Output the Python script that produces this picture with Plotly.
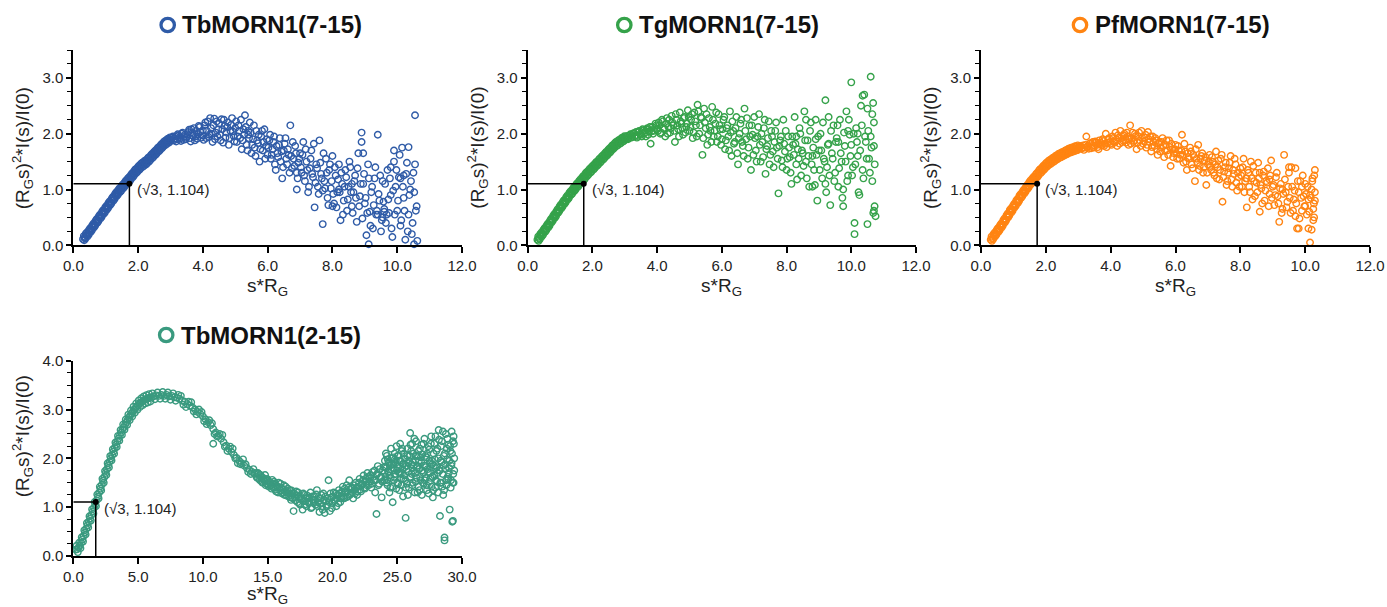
import plotly.graph_objects as go

W, H = 1387, 607

# ---------------- data ----------------
guide_x = 1.732
guide_y = 1.104
guide_label = "(\u221a3, 1.104)"

titles = ["TbMORN1(7-15)", "TgMORN1(7-15)", "PfMORN1(7-15)", "TbMORN1(2-15)"]
colors = ["#2F5BA7", "#35A24A", "#FF8412", "#3A9A7F"]

# shared x grids of the low-angle band of the three (7-15) constructs
band_x = [0.30,0.35,0.40,0.45,0.50,0.55,0.60,0.65,0.70,0.75,0.80,0.85,0.90,0.95,1.00,1.05,1.10,1.15,1.20,1.25,
          1.30,1.35,1.40,1.45,1.50,1.55,1.60,1.65,1.70,1.75,1.80,1.85,1.90,1.95,2.00,2.05,2.10,2.15,2.20,2.25,
          2.30,2.35,2.40,2.45,2.50,2.55,2.60,2.65,2.70,2.75,2.80,2.85,2.90,2.95,3.00]
band_x2 = [0.325,0.375,0.425,0.475,0.525,0.575,0.625,0.675,0.725,0.775,0.825,0.875,0.925,0.975,1.025,1.075,1.125,1.175,
           1.225,1.275,1.325,1.375,1.425,1.475,1.525,1.575,1.625,1.675,1.725,1.775,1.825,1.875,1.925,1.975,2.025,2.075,
           2.125,2.175,2.225,2.275,2.325,2.375,2.425,2.475,2.525,2.575,2.625,2.675,2.725,2.775,2.825,2.875,2.925,2.975]
band_x3 = [0.3375,0.3875,0.4375,0.4875,0.5375,0.5875,0.6375,0.6875,0.7375,0.7875,0.8375,0.8875,0.9375,0.9875,1.0375,1.0875,1.1375,1.1875,
           1.2375,1.2875,1.3375,1.3875,1.4375,1.4875,1.5375,1.5875,1.6375,1.6875,1.7375,1.7875,1.8375,1.8875,1.9375,1.9875,2.0375,2.0875,
           2.1375,2.1875,2.2375,2.2875,2.3375,2.3875,2.4375,2.4875,2.5375,2.5875,2.6375,2.6875,2.7375,2.7875,2.8375,2.8875,2.9375,2.9875]
mid_x = [3.05,3.10,3.15,3.20,3.25,3.30,3.35,3.40,3.45,3.50,3.55,3.60,3.65,3.70,3.75,3.80,3.85,3.90,3.95,4.00,
         4.05,4.10,4.15,4.20,4.25,4.30,4.35,4.40,4.45,4.50,4.55,4.60,4.65,4.70,4.75,4.80,4.85,4.90,4.95,5.00,
         5.05,5.10,5.15,5.20,5.25,5.30,5.35,5.40,5.45,5.50,5.55,5.60,5.65,5.70,5.75,5.80,5.85,5.90,5.95,6.00,
         6.05,6.10,6.15,6.20,6.25,6.30,6.35,6.40,6.45,6.50,6.55,6.60,6.65,6.70,6.75,6.80,6.85,6.90,6.95,7.00,
         7.05,7.10,7.15,7.20,7.25,7.30,7.35,7.40,7.45,7.50,7.55,7.60,7.65,7.70,7.75,7.80,7.85,7.90,7.95,8.00,
         8.05,8.10,8.15,8.20,8.25,8.30,8.35,8.40,8.45,8.50,8.55,8.60,8.65,8.70,8.75,8.80,8.85,8.90,8.95,9.00,
         9.05,9.10,9.15,9.20,9.25,9.30,9.35,9.40,9.45,9.50,9.55,9.60,9.65,9.70,9.75,9.80,9.85,9.90,9.95,10.00]
mid_x2 = [3.025,3.075,3.125,3.175,3.225,3.275,3.325,3.375,3.425,3.475,3.525,3.575,3.625,3.675,3.725,3.775,3.825,3.875,3.925,3.975,
          4.025,4.075,4.125,4.175,4.225,4.275,4.325,4.375,4.425,4.475,4.525,4.575,4.625,4.675,4.725,4.775,4.825,4.875,4.925,4.975,
          5.025,5.075,5.125,5.175,5.225,5.275,5.325,5.375,5.425,5.475,5.525,5.575,5.625,5.675,5.725,5.775,5.825,5.875,5.925,5.975,
          6.025,6.075,6.125,6.175,6.225,6.275,6.325,6.375,6.425,6.475,6.525,6.575,6.625,6.675,6.725,6.775,6.825,6.875,6.925,6.975,
          7.025,7.075,7.125,7.175,7.225,7.275,7.325,7.375,7.425,7.475,7.525,7.575,7.625,7.675,7.725,7.775,7.825,7.875,7.925,7.975,
          8.025,8.075,8.125,8.175,8.225,8.275,8.325,8.375,8.425,8.475,8.525,8.575,8.625,8.675,8.725,8.775,8.825,8.875,8.925,8.975,
          9.025,9.075,9.125,9.175,9.225,9.275,9.325,9.375,9.425,9.475,9.525,9.575,9.625,9.675,9.725,9.775,9.825,9.875,9.925,9.975]

# TbMORN1(7-15)
tb7_band_y = [0.11,0.14,0.18,0.21,0.25,0.29,0.33,0.37,0.41,0.45,0.49,0.53,0.57,0.61,0.65,0.69,0.73,0.77,0.81,0.85,
              0.89,0.93,0.96,1.00,1.03,1.07,1.10,1.14,1.17,1.20,1.24,1.27,1.31,1.34,1.37,1.40,1.43,1.45,1.47,1.49,
              1.52,1.55,1.58,1.61,1.64,1.67,1.70,1.73,1.76,1.79,1.82,1.84,1.86,1.88,1.90]
tb7_band_y2 = [0.165,0.12,0.235,0.19,0.31,0.27,0.39,0.35,0.47,0.43,0.55,0.51,0.63,0.59,0.71,0.67,0.79,0.75,
               0.87,0.83,0.95,0.905,1.02,0.975,1.09,1.045,1.16,1.115,1.225,1.18,1.295,1.25,1.365,1.315,1.425,1.375,
               1.48,1.42,1.52,1.465,1.575,1.525,1.635,1.585,1.695,1.645,1.755,1.705,1.815,1.765,1.87,1.81,1.91,1.85]
tb7_band_y3 = [0.09,0.21,0.16,0.28,0.24,0.36,0.32,0.44,0.40,0.52,0.48,0.60,0.56,0.68,0.64,0.76,0.72,0.84,
               0.80,0.92,0.88,0.99,0.95,1.06,1.02,1.13,1.09,1.20,1.15,1.27,1.22,1.34,1.29,1.40,1.35,1.46,
               1.405,1.505,1.445,1.55,1.50,1.61,1.56,1.67,1.62,1.73,1.68,1.79,1.74,1.85,1.795,1.895,1.835,1.935]
tb7_mid_y = [1.93,1.88,1.95,1.90,1.97,1.91,2.00,1.89,1.98,1.94,2.03,1.92,2.08,1.96,1.88,2.05,1.99,2.12,1.93,2.06,
             2.15,1.92,2.22,1.98,2.10,1.85,2.27,2.02,1.95,2.18,1.88,2.08,2.25,1.93,2.12,1.80,2.05,2.28,1.96,2.10,
             1.85,2.15,1.92,1.72,2.08,2.33,1.80,1.98,2.20,1.65,1.90,1.75,2.05,1.83,1.50,1.95,1.70,2.08,1.78,1.62,
             1.88,1.55,1.72,1.95,1.35,1.65,1.80,1.50,1.20,1.70,1.92,1.45,1.62,2.15,1.38,1.55,1.78,1.00,1.48,1.65,
             1.30,1.85,1.15,1.50,0.95,1.38,1.70,1.22,0.68,1.45,1.05,1.88,1.28,0.38,1.15,1.55,0.85,1.35,1.02,1.60,
             0.75,1.25,0.95,1.45,0.45,1.10,0.80,1.35,0.62,1.05,1.40,0.70,0.95,1.25,0.42,1.65,0.88,2.02,1.10,0.75,
             0.18,1.45,0.60,0.95,0.30,1.20,0.55,1.98,0.80,0.25,1.15,0.65,0.40,1.35,0.58,0.90,0.15,1.70,1.05,0.62]
tb7_mid_y2 = [1.88,1.95,1.91,1.86,1.99,1.93,1.87,2.02,1.94,1.90,1.99,2.07,1.86,2.01,2.10,1.95,1.91,2.14,2.03,1.97,
              1.89,2.20,2.05,1.94,2.28,2.00,2.15,1.90,2.22,2.08,1.98,2.26,1.84,2.14,2.02,2.20,1.92,2.16,2.04,1.86,
              2.22,1.95,2.05,2.25,1.88,1.98,2.12,1.70,1.92,2.02,1.80,2.15,1.60,1.88,1.98,1.72,2.05,1.85,1.55,1.90,
              1.75,1.98,1.62,1.85,1.45,1.78,1.58,1.92,1.68,1.40,1.82,1.55,1.72,1.30,1.60,1.85,1.42,1.65,1.20,1.55,
              1.40,1.62,1.25,1.72,1.35,1.05,1.55,1.28,1.82,1.12,1.38,0.92,1.48,1.20,1.65,1.02,1.30,0.72,1.45,1.15,
              0.92,1.40,0.68,1.18,0.95,1.30,0.55,1.05,1.22,0.82,1.50,0.95,0.58,1.15,0.85,1.38,0.70,1.10,0.48,1.28,
              0.85,0.58,1.20,0.35,1.05,0.72,1.40,0.62,0.92,1.25,0.45,0.78,1.10,0.55,0.82,1.20,0.30,0.98,0.55,1.35]
tb7_end_x = [10.05,10.10,10.15,10.20,10.25,10.30,10.35,10.40,10.45,10.50,10.55,10.60,
             10.025,10.075,10.125,10.175,10.225,10.275,10.325,10.375,10.425,10.475,10.525,10.575,
             9.12,10.52,10.62,9.40,9.60,9.55,10.10,10.20,9.90,9.80,8.90,8.95,10.35,10.55,8.60,8.20,7.70,8.00,6.90,5.40]
tb7_end_y = [1.22,0.35,1.75,0.85,0.10,1.48,0.55,1.00,0.20,1.30,2.33,0.70,
             0.80,1.62,0.45,1.05,0.62,1.28,0.25,0.90,1.15,0.40,0.95,0.62,
             0.02,0.02,0.08,0.55,0.60,0.50,1.20,1.25,1.50,1.40,1.85,1.65,1.76,1.45,1.10,1.00,0.98,0.70,1.30,2.05]

# TgMORN1(7-15)
tg7_band_y = [0.10,0.13,0.17,0.21,0.25,0.29,0.33,0.37,0.41,0.46,0.50,0.54,0.58,0.63,0.67,0.71,0.75,0.79,0.83,0.87,
              0.91,0.95,0.98,1.02,1.05,1.09,1.12,1.16,1.19,1.22,1.26,1.29,1.32,1.35,1.38,1.41,1.44,1.47,1.50,1.53,
              1.56,1.59,1.62,1.65,1.68,1.71,1.74,1.77,1.80,1.82,1.84,1.86,1.88,1.90,1.92]
tg7_band_y2 = [0.155,0.11,0.23,0.19,0.31,0.27,0.39,0.35,0.475,0.44,0.56,0.52,0.645,0.61,0.73,0.69,0.81,0.77,
               0.89,0.85,0.97,0.925,1.04,0.995,1.11,1.065,1.18,1.135,1.245,1.20,1.315,1.265,1.375,1.325,1.435,1.385,
               1.495,1.445,1.555,1.505,1.615,1.565,1.675,1.625,1.735,1.685,1.795,1.745,1.85,1.79,1.89,1.83,1.93,1.87]
tg7_band_y3 = [0.08,0.20,0.16,0.28,0.24,0.36,0.32,0.44,0.41,0.53,0.49,0.61,0.58,0.70,0.66,0.78,0.74,0.86,
               0.82,0.94,0.90,1.01,0.97,1.08,1.04,1.15,1.11,1.22,1.17,1.29,1.24,1.35,1.30,1.41,1.36,1.47,
               1.42,1.53,1.48,1.59,1.54,1.65,1.60,1.71,1.66,1.77,1.72,1.83,1.775,1.875,1.815,1.915,1.855,1.955]
tg7_mid_y = [1.94,1.90,1.97,1.93,2.00,1.95,2.03,1.96,2.05,1.98,2.08,2.00,1.95,2.10,2.04,1.82,2.12,2.05,2.18,2.08,
             2.20,2.00,2.25,2.10,1.95,2.28,2.12,2.02,2.32,2.15,1.85,2.25,2.08,2.38,2.18,1.98,2.30,2.12,2.42,2.05,
             2.25,1.92,2.38,2.15,2.52,2.00,2.30,1.62,2.45,2.10,1.80,2.28,2.05,2.48,1.95,2.18,1.85,2.35,2.08,1.90,
             2.25,1.72,2.10,1.95,2.40,1.60,2.05,1.85,2.30,1.45,2.00,2.25,1.78,2.45,1.90,1.55,2.15,1.35,1.98,2.30,
             1.70,1.95,2.35,1.50,1.85,2.10,1.28,1.78,2.22,1.62,1.95,1.40,2.05,1.75,0.93,1.88,1.52,2.25,1.68,1.35,
             1.95,1.58,1.10,1.80,2.30,1.45,1.72,2.10,1.25,1.65,2.40,1.50,1.88,1.05,2.20,1.60,1.35,1.90,0.80,1.70,
             2.00,1.20,1.55,2.60,1.40,1.82,0.72,1.65,2.15,1.30,1.92,1.05,2.25,1.50,0.70,1.78,2.40,1.25,1.98,2.92]
tg7_mid_y2 = [1.90,1.96,1.92,1.99,1.94,2.01,1.97,1.93,2.04,2.00,1.95,2.06,2.02,2.08,1.98,2.12,2.04,2.00,2.10,2.15,
              2.05,2.15,2.02,2.22,2.08,2.18,2.00,2.25,2.10,2.20,2.05,2.35,2.15,1.95,2.22,2.10,2.28,2.02,2.18,2.30,
              2.12,2.35,2.02,2.22,1.95,2.40,2.15,2.28,1.92,2.20,2.35,1.98,2.12,1.85,2.25,2.05,2.38,1.95,2.15,1.80,
              2.08,2.30,1.88,2.15,1.70,2.02,2.22,1.82,2.10,1.65,1.92,2.18,1.85,1.60,2.05,2.28,1.75,1.95,2.15,1.62,
              1.92,1.50,2.12,1.80,2.00,1.58,2.25,1.72,1.92,1.45,2.05,1.68,1.85,2.20,1.55,1.78,1.95,1.40,1.82,2.05,
              1.55,1.75,1.30,1.95,1.62,1.82,1.18,1.55,2.00,1.70,1.42,1.88,1.20,1.60,2.05,1.45,1.75,1.08,1.62,1.95,
              1.35,1.70,2.20,1.50,0.95,1.80,1.25,2.05,1.55,1.15,1.85,2.15,1.38,1.65,0.85,2.02,1.50,1.15,2.25,1.60]
tg7_end_x = [10.05,10.10,10.15,10.20,10.25,10.30,10.35,10.40,10.45,10.50,10.55,10.60,10.65,10.70,10.75,
             10.025,10.075,10.125,10.175,10.225,10.275,10.325,10.375,10.425,10.475,10.525,10.575,10.625,10.675,10.725,
             10.10,10.70,10.72,10.68,10.65,10.70,10.20,9.90,9.60,9.30,8.90,8.60,8.30,10.35,10.60,10.50,9.75,9.20,8.80,10.00]
tg7_end_y = [1.40,0.20,2.10,1.60,0.90,2.50,1.35,2.70,1.85,0.38,1.55,3.02,1.15,2.20,0.52,
             1.25,2.00,1.45,1.85,0.95,1.70,2.15,1.20,1.95,1.55,2.05,1.30,1.75,2.55,1.45,
             0.40,0.62,0.70,0.58,2.35,1.78,2.00,2.05,1.85,2.30,2.25,2.25,1.95,2.68,1.95,2.45,1.00,1.10,1.05,1.80]

# PfMORN1(7-15)
pf7_band_y = [0.10,0.13,0.17,0.21,0.25,0.29,0.33,0.37,0.42,0.46,0.51,0.55,0.60,0.64,0.68,0.73,0.77,0.81,0.86,0.90,
              0.94,0.98,1.02,1.06,1.10,1.14,1.17,1.21,1.24,1.27,1.31,1.34,1.37,1.40,1.43,1.46,1.48,1.50,1.52,1.54,
              1.56,1.58,1.60,1.61,1.63,1.64,1.66,1.67,1.69,1.70,1.71,1.72,1.73,1.74,1.75]
pf7_band_y2 = [0.155,0.11,0.23,0.19,0.31,0.27,0.39,0.355,0.48,0.445,0.57,0.535,0.66,0.62,0.745,0.71,0.83,0.795,
               0.92,0.88,1.00,0.96,1.08,1.04,1.16,1.115,1.23,1.185,1.295,1.25,1.365,1.315,1.425,1.375,1.485,1.43,
               1.53,1.47,1.57,1.51,1.61,1.55,1.645,1.58,1.675,1.61,1.705,1.64,1.735,1.665,1.755,1.685,1.775,1.705]
pf7_band_y3 = [0.08,0.20,0.16,0.28,0.24,0.36,0.32,0.45,0.41,0.54,0.50,0.63,0.59,0.71,0.68,0.80,0.76,0.89,
               0.85,0.97,0.93,1.05,1.01,1.13,1.09,1.20,1.16,1.27,1.22,1.34,1.29,1.40,1.35,1.46,1.41,1.515,
               1.455,1.555,1.495,1.595,1.535,1.635,1.57,1.665,1.60,1.695,1.63,1.725,1.66,1.75,1.68,1.77,1.70,1.79]
pf7_mid_y = [1.77,1.73,1.79,1.75,1.95,1.78,1.82,1.74,1.85,1.79,1.84,1.76,1.88,1.81,1.90,1.78,2.00,1.84,1.92,1.82,
             1.95,1.86,2.02,1.78,1.93,2.05,1.85,1.97,1.88,2.02,1.80,2.15,1.92,1.85,2.00,1.72,1.95,1.88,2.05,1.82,
             1.93,1.75,2.03,1.85,1.68,1.95,1.78,1.88,1.62,1.85,1.75,1.92,1.58,1.80,1.70,1.88,1.42,1.72,1.65,1.80,
             1.55,1.70,1.62,1.98,1.48,1.68,1.35,1.58,1.75,1.45,1.62,1.15,1.55,1.80,1.42,1.60,1.30,1.52,1.08,1.45,
             1.62,1.35,1.50,1.25,1.68,1.40,1.18,1.55,0.78,1.32,1.48,1.15,1.38,1.60,1.05,1.28,1.45,0.98,1.22,1.38,
             1.05,1.55,1.15,0.68,1.30,0.95,1.20,1.42,0.88,1.12,1.48,0.60,1.02,1.25,0.80,1.15,1.38,0.92,1.52,1.05,
             0.72,1.22,0.88,0.42,1.10,0.65,1.62,0.95,0.78,1.30,0.58,1.05,0.82,1.38,0.30,0.95,1.15,0.62,0.88,1.10]
pf7_mid_y2 = [1.73,1.78,1.75,1.71,1.80,1.76,1.73,1.83,1.78,1.75,1.86,1.80,1.72,1.84,1.79,1.87,1.82,1.76,1.89,1.85,
              1.80,1.92,1.84,1.90,1.97,1.82,1.92,1.88,2.00,1.84,1.95,1.90,1.82,2.02,1.88,1.96,1.84,2.02,1.78,1.92,
              1.86,1.98,1.80,1.90,1.95,1.76,1.85,1.92,1.72,1.82,1.68,1.85,1.78,1.70,1.88,1.62,1.76,1.82,1.58,1.72,
              1.65,1.78,1.55,1.70,1.62,1.82,1.50,1.65,1.55,1.68,1.38,1.58,1.72,1.48,1.35,1.55,1.65,1.40,1.58,1.30,
              1.50,1.42,1.58,1.30,1.45,1.20,1.52,1.35,1.62,1.22,1.40,1.08,1.30,1.48,1.18,1.35,1.55,1.12,1.30,1.05,
              1.25,1.40,0.95,1.20,1.35,1.05,1.50,0.82,1.15,1.30,0.95,1.20,1.08,0.75,1.32,0.98,1.12,0.70,1.25,0.85,
              1.08,0.90,1.30,0.75,1.02,0.58,0.92,1.18,0.68,1.05,0.85,1.40,0.62,0.98,0.75,1.15,0.48,0.85,1.25,0.70]
pf7_end_x = [10.05,10.10,10.15,10.20,10.25,10.30,10.025,10.075,10.125,10.175,10.225,10.275,
             10.28,10.30,10.25,10.20,10.10,10.00,9.90,9.70,9.50,9.30,8.90,8.60,8.20,10.22,10.15,10.30,10.27,9.80]
pf7_end_y = [0.55,0.82,0.05,1.00,0.45,1.35,0.92,1.05,0.60,0.85,1.20,0.50,
             1.25,0.80,0.65,0.28,0.30,0.70,1.05,0.52,1.40,1.00,1.18,1.30,1.20,1.15,0.90,0.95,0.75,0.30]

# TbMORN1(2-15)
tb2_rise_x = [0.2,0.3,0.4,0.5,0.6,0.7,0.8,0.9,1.0,1.1,1.2,1.3,1.4,1.5,1.6,1.7,1.8,1.9,2.0,2.1,
              2.2,2.3,2.4,2.5,2.6,2.7,2.8,2.9,3.0,3.1,3.2,3.3,3.4,3.5,3.6,3.7,3.8,3.9,4.0,4.1,
              4.2,4.3,4.4,4.5,4.6,4.7,4.8,4.9,5.0,5.1,5.2,5.3,5.4,5.5,5.6,5.7,5.8,5.9,6.0]
tb2_rise_y = [0.13,0.14,0.17,0.21,0.27,0.34,0.41,0.48,0.56,0.63,0.70,0.77,0.84,0.91,0.99,1.06,1.14,1.22,1.30,1.38,
              1.46,1.54,1.62,1.70,1.78,1.86,1.93,2.00,2.07,2.14,2.21,2.28,2.35,2.41,2.47,2.53,2.59,2.64,2.69,2.74,
              2.79,2.84,2.88,2.92,2.96,3.00,3.03,3.06,3.09,3.12,3.14,3.16,3.18,3.20,3.21,3.22,3.23,3.24,3.25]
tb2_rise_x2 = [0.25,0.35,0.45,0.55,0.65,0.75,0.85,0.95,1.05,1.15,1.25,1.35,1.45,1.55,1.65,1.75,1.85,1.95,2.05,2.15,
               2.25,2.35,2.45,2.55,2.65,2.75,2.85,2.95,3.05,3.15,3.25,3.35,3.45,3.55,3.65,3.75,3.85,3.95,4.05,4.15,
               4.25,4.35,4.45,4.55,4.65,4.75,4.85,4.95,5.05,5.15,5.25,5.35,5.45,5.55,5.65,5.75,5.85,5.95]
tb2_rise_y2 = [0.21,0.08,0.27,0.16,0.385,0.295,0.525,0.44,0.675,0.585,0.815,0.725,0.955,0.87,1.105,1.02,1.26,1.18,1.42,1.34,
               1.58,1.50,1.74,1.66,1.90,1.815,2.045,1.955,2.185,2.095,2.325,2.235,2.46,2.36,2.58,2.48,2.695,2.585,2.795,2.685,
               2.895,2.78,2.98,2.86,3.06,2.935,3.125,2.995,3.185,3.05,3.23,3.09,3.27,3.125,3.295,3.145,3.315,3.165]
tb2_fall_x = [6.2,6.4,6.6,6.8,7.0,7.2,7.4,7.6,7.8,8.0,8.2,8.4,8.6,8.8,9.0,9.2,9.4,9.6,9.8,10.0,
              10.2,10.4,10.6,10.8,11.0,11.2,11.4,11.6,11.8,12.0,12.2,12.4,12.6,12.8,13.0,13.2,13.4,13.6,13.8,14.0,
              8.3,8.7,9.1,9.5,9.9,10.3,10.7,11.1,11.5,11.9,12.3,12.7,13.1,13.5,13.9,12.5,
              6.1,6.3,6.5,6.7,6.9,7.1,7.3,7.5,7.7,7.9,8.1,8.5,8.9,9.3,9.7,10.1,10.5,10.9,11.3,11.7,12.1,12.9,13.3,13.7]
tb2_fall_y = [3.27,3.29,3.28,3.30,3.28,3.30,3.27,3.28,3.25,3.24,3.22,3.18,3.16,3.11,3.08,3.04,3.00,2.95,2.91,2.86,
              2.80,2.74,2.68,2.60,2.53,2.46,2.40,2.33,2.26,2.20,2.13,2.07,2.01,1.95,1.90,1.85,1.80,1.76,1.72,1.68,
              3.28,3.05,3.15,2.90,2.95,2.70,2.72,2.45,2.48,2.15,2.20,1.90,1.98,1.72,1.78,2.00,
              3.33,3.21,3.35,3.22,3.36,3.22,3.35,3.20,3.33,3.18,3.30,3.10,3.16,2.96,3.00,2.76,2.78,2.50,2.50,2.24,2.24,1.88,1.88,1.68]
tb2_min_x = [14.1,14.2,14.3,14.4,14.5,14.6,14.7,14.8,14.9,15.0,15.1,15.2,15.3,15.4,15.5,15.6,15.7,15.8,15.9,16.0,
             16.1,16.2,16.3,16.4,16.5,16.6,16.7,16.8,16.9,17.0,17.1,17.2,17.3,17.4,17.5,17.6,17.7,17.8,17.9,18.0,
             18.1,18.2,18.3,18.4,18.5,18.6,18.7,18.8,18.9,19.0,19.1,19.2,19.3,19.4,19.5,19.6,19.7,19.8,19.9,20.0,
             20.1,20.2,20.3,20.4,20.5,20.6,20.7,20.8,20.9,21.0,21.1,21.2,21.3,21.4,21.5,21.6,21.7,21.8,21.9,22.0,
             22.1,22.2,22.3,22.4,22.5,22.6,22.7,22.8,22.9,23.0,23.1,23.2,23.3,23.4,23.5,23.6,23.7,23.8,23.9,24.0]
tb2_min_y = [1.70,1.60,1.68,1.55,1.62,1.50,1.58,1.66,1.48,1.55,1.42,1.50,1.38,1.47,1.52,1.36,1.44,1.30,1.40,1.48,
             1.28,1.36,1.25,1.42,1.30,1.22,1.35,1.15,1.28,0.92,1.20,1.32,1.10,1.22,1.05,1.18,0.95,1.25,1.12,1.02,
             1.20,1.08,1.30,1.00,1.15,1.22,1.05,1.35,1.10,0.90,1.18,1.02,1.28,0.88,1.12,1.05,1.55,0.92,1.20,1.08,
             1.30,1.15,1.02,1.25,1.35,1.10,1.22,1.42,1.18,1.30,1.45,1.22,1.55,1.28,1.40,1.18,1.35,1.50,1.25,1.42,
             1.58,1.32,1.48,1.65,1.38,1.52,1.70,1.45,1.60,1.40,1.72,1.55,1.30,1.66,1.84,1.48,1.60,1.20,1.75,1.55]
tb2_min_x2 = [14.15,14.25,14.35,14.45,14.55,14.65,14.75,14.85,14.95,15.05,15.15,15.25,15.35,15.45,15.55,15.65,15.75,15.85,15.95,16.05,
              16.15,16.25,16.35,16.45,16.55,16.65,16.75,16.85,16.95,17.05,17.15,17.25,17.35,17.45,17.55,17.65,17.75,17.85,17.95,18.05,
              18.15,18.25,18.35,18.45,18.55,18.65,18.75,18.85,18.95,19.05,19.15,19.25,19.35,19.45,19.55,19.65,19.75,19.85,19.95,20.05,
              20.15,20.25,20.35,20.45,20.55,20.65,20.75,20.85,20.95,21.05,21.15,21.25,21.35,21.45,21.55,21.65,21.75,21.85,21.95,22.05,
              22.15,22.25,22.35,22.45,22.55,22.65,22.75,22.85,22.95,23.05,23.15,23.25,23.35,23.45,23.55,23.65,23.75,23.85,23.95]
tb2_min_y2 = [1.62,1.70,1.58,1.66,1.52,1.60,1.54,1.45,1.58,1.46,1.52,1.44,1.56,1.40,1.48,1.32,1.42,1.50,1.34,1.40,
              1.30,1.45,1.32,1.24,1.38,1.28,1.20,1.34,1.18,1.28,1.14,1.24,1.30,1.08,1.22,1.15,1.28,1.05,1.18,1.24,
              1.10,1.18,0.98,1.22,1.08,1.15,1.26,1.02,1.18,1.08,1.25,0.95,1.15,1.22,1.02,1.18,1.10,1.28,0.98,1.22,
              1.12,1.28,1.18,1.08,1.28,1.18,1.32,1.22,1.38,1.20,1.32,1.40,1.25,1.38,1.30,1.45,1.28,1.40,1.32,1.50,
              1.36,1.45,1.55,1.40,1.58,1.45,1.62,1.52,1.66,1.48,1.62,1.75,1.55,1.68,1.45,1.78,1.62,1.52,1.82]
tb2_tail_x = [24.05,24.10,24.15,24.20,24.25,24.30,24.35,24.40,24.45,24.50,24.55,24.60,24.65,24.70,24.75,24.80,24.85,24.90,24.95,25.00,
              25.05,25.10,25.15,25.20,25.25,25.30,25.35,25.40,25.45,25.50,25.55,25.60,25.65,25.70,25.75,25.80,25.85,25.90,25.95,26.00,
              26.05,26.10,26.15,26.20,26.25,26.30,26.35,26.40,26.45,26.50,26.55,26.60,26.65,26.70,26.75,26.80,26.85,26.90,26.95,27.00,
              27.05,27.10,27.15,27.20,27.25,27.30,27.35,27.40,27.45,27.50,27.55,27.60,27.65,27.70,27.75,27.80,27.85,27.90,27.95,28.00,
              28.05,28.10,28.15,28.20,28.25,28.30,28.35,28.40,28.45,28.50,28.55,28.60,28.65,28.70,28.75,28.80,28.85,28.90,28.95,29.00,
              29.05,29.10,29.15,29.20,29.25,29.30,29.35,29.40,
              28.65,29.30,29.35,29.40,29.20,23.40,10.80]
tb2_tail_y = [1.95,1.62,1.80,2.05,1.45,1.72,1.90,1.30,1.85,1.60,2.00,1.75,1.10,1.88,1.55,2.10,1.68,1.95,2.25,1.50,
              1.82,2.05,1.35,1.70,1.95,1.58,2.15,1.78,1.22,1.90,1.65,2.00,0.78,1.85,1.48,2.20,1.72,1.40,2.05,2.52,
              1.62,1.88,2.30,1.50,2.10,1.75,1.30,1.95,2.35,1.60,1.85,2.05,1.42,1.78,2.20,1.55,1.92,1.25,2.08,1.70,
              1.48,2.40,1.85,1.60,2.02,1.35,1.78,2.25,1.52,1.95,1.70,2.30,1.42,1.88,1.20,2.10,1.65,1.98,2.45,1.55,
              1.82,2.20,1.30,2.58,1.75,0.82,1.95,1.50,2.35,1.68,1.25,2.05,0.32,1.88,2.50,1.45,1.98,1.62,2.28,1.80,
              0.95,2.15,1.55,1.90,0.70,2.35,1.50,2.00,
              0.38,0.72,2.45,1.75,2.55,0.86,2.30]
tb2_tail_x2 = [24.025,24.125,24.225,24.325,24.425,24.525,24.625,24.725,24.825,24.925,25.025,25.125,25.225,25.325,25.425,25.525,25.625,25.725,
               25.825,25.925,26.025,26.125,26.225,26.325,26.425,26.525,26.625,26.725,26.825,26.925,27.025,27.125,27.225,27.325,27.425,27.525,
               27.625,27.725,27.825,27.925,28.025,28.125,28.225,28.325,28.425,28.525,28.625,28.725,28.825,28.925,29.025,29.125,29.225,29.325,
               24.075,24.175,24.275,24.375,24.475,24.575,24.675,24.775,24.875,24.975,25.075,25.175,25.275,25.375,25.475,25.575,25.675,25.775,
               25.875,25.975,26.075,26.175,26.275,26.375,26.475,26.575,26.675,26.775,26.875,26.975,27.075,27.175,27.275,27.375,27.475,27.575,
               27.675,27.775,27.875,27.975,28.075,28.175,28.275,28.375,28.475,28.575,28.675,28.775,28.875,28.975,29.075,29.175,29.275,29.375]
tb2_tail_y2 = [1.70,2.10,1.55,1.92,1.65,2.20,1.42,1.80,1.98,1.38,2.05,1.72,2.30,1.45,1.88,2.10,1.55,1.78,
               1.25,1.95,2.28,1.68,1.92,2.40,1.52,1.80,2.15,1.35,2.02,1.75,2.30,1.55,1.82,2.10,1.28,1.90,
               2.45,1.62,1.85,1.40,2.15,1.70,2.38,1.50,1.92,2.55,1.35,1.78,2.20,1.58,1.95,1.40,2.10,1.68,
               1.82,1.50,1.98,1.72,1.40,1.88,2.02,1.62,1.90,1.75,1.48,1.95,1.68,2.20,1.58,1.82,1.40,2.05,
               1.90,1.60,2.15,1.45,1.85,1.70,2.05,1.30,1.95,1.62,2.28,1.50,1.85,2.05,1.45,1.72,2.18,1.60,
               1.95,1.35,2.30,1.80,1.52,2.00,1.75,2.25,1.42,1.85,2.10,1.55,2.40,1.70,2.25,1.85,1.50,2.30]

series_x = [band_x + band_x2 + band_x3 + mid_x + mid_x2 + tb7_end_x,
            band_x + band_x2 + band_x3 + mid_x + mid_x2 + tg7_end_x,
            band_x + band_x2 + band_x3 + mid_x + mid_x2 + pf7_end_x,
            tb2_rise_x + tb2_rise_x2 + tb2_fall_x + tb2_min_x + tb2_min_x2 + tb2_tail_x + tb2_tail_x2]
series_y = [tb7_band_y + tb7_band_y2 + tb7_band_y3 + tb7_mid_y + tb7_mid_y2 + tb7_end_y,
            tg7_band_y + tg7_band_y2 + tg7_band_y3 + tg7_mid_y + tg7_mid_y2 + tg7_end_y,
            pf7_band_y + pf7_band_y2 + pf7_band_y3 + pf7_mid_y + pf7_mid_y2 + pf7_end_y,
            tb2_rise_y + tb2_rise_y2 + tb2_fall_y + tb2_min_y + tb2_min_y2 + tb2_tail_y + tb2_tail_y2]

# ---------------- layout geometry (pixels) ----------------
boxes = [(73.3, 462.0, 50.0, 245.3),
         (527.7, 916.0, 50.0, 245.3),
         (981.0, 1370.0, 50.0, 245.3),
         (73.3, 462.0, 360.7, 556.0)]
x_ranges = [[0, 12], [0, 12], [0, 12], [0, 30]]
y_ranges = [[0, 3.5], [0, 3.5], [0, 3.5], [0, 4]]
x_dticks = [2, 2, 2, 5]
title_circle_cx = [167.7, 624.3, 1080.0, 166.2]
title_text_x = [180.0, 637.0, 1093.0, 179.0]
title_cy = [25.0, 25.0, 25.0, 335.0]
ytitle_cy = [148.0, 148.0, 148.0, 436.0]
xtitle_cy = [287.0, 287.0, 287.0, 595.0]

FONT = "Liberation Sans, Arial, sans-serif"

fig = go.Figure()
annotations = []
shapes = []
layout_axes = {}

for i in range(4):
    n = "" if i == 0 else str(i + 1)
    xa, ya = "x" + n, "y" + n
    L, R, T, B = boxes[i]
    col = colors[i]

    fig.add_trace(go.Scatter(
        x=series_x[i], y=series_y[i], mode="markers", xaxis=xa, yaxis=ya,
        marker=dict(symbol="circle-open", size=6.5, color=col, line=dict(width=1.4, color=col)),
        cliponaxis=False, showlegend=False, hoverinfo="skip"))

    fig.add_trace(go.Scatter(
        x=[0, guide_x, guide_x], y=[guide_y, guide_y, 0], mode="lines", xaxis=xa, yaxis=ya,
        line=dict(color="black", width=1.5), showlegend=False, hoverinfo="skip", cliponaxis=False))
    fig.add_trace(go.Scatter(
        x=[guide_x], y=[guide_y], mode="markers", xaxis=xa, yaxis=ya,
        marker=dict(size=6, color="black"), showlegend=False, hoverinfo="skip", cliponaxis=False))

    annotations.append(dict(
        x=guide_x, y=guide_y, xref=xa, yref=ya, text=guide_label, showarrow=False,
        xanchor="left", yanchor="middle", xshift=6, yshift=-6,
        font=dict(family=FONT, size=15, color="#222")))

    layout_axes["xaxis" + n] = dict(
        domain=[L / W, R / W], anchor=ya, range=x_ranges[i], dtick=x_dticks[i], tick0=0,
        tickformat=".1f", showline=True, linecolor="black", linewidth=2, automargin=False,
        ticks="outside", ticklen=6, tickwidth=1.5, tickcolor="black",
        showgrid=False, zeroline=False, fixedrange=True,
        tickfont=dict(family=FONT, size=15, color="#222"))
    layout_axes["yaxis" + n] = dict(
        domain=[1 - B / H, 1 - T / H], anchor=xa, range=y_ranges[i], dtick=1, tick0=0,
        tickformat=".1f", showline=True, linecolor="black", linewidth=2, automargin=False,
        ticks="outside", ticklen=5, tickwidth=1.5, tickcolor="black",
        minor=dict(dtick=0.25, ticks="outside", ticklen=4, tickwidth=1.2, tickcolor="black", showgrid=False),
        showgrid=False, zeroline=False, fixedrange=True,
        tickfont=dict(family=FONT, size=15, color="#222"))

    r = 6.7
    shapes.append(dict(type="circle", xref="paper", yref="paper",
                       x0=(title_circle_cx[i] - r) / W, x1=(title_circle_cx[i] + r) / W,
                       y0=1 - (title_cy[i] + r) / H, y1=1 - (title_cy[i] - r) / H,
                       line=dict(color=col, width=3.3)))
    annotations.append(dict(
        x=title_text_x[i] / W, y=1 - title_cy[i] / H, xref="paper", yref="paper",
        text="<b>" + titles[i] + "</b>", showarrow=False, xanchor="left", yanchor="middle",
        font=dict(family=FONT, size=24, color="#111")))

    annotations.append(dict(
        x=(L + R) / 2 / W, y=1 - xtitle_cy[i] / H, xref="paper", yref="paper",
        text="s*R<sub>G</sub>", showarrow=False, xanchor="center", yanchor="middle",
        font=dict(family=FONT, size=19, color="#222")))
    annotations.append(dict(
        x=(L - 51) / W, y=1 - ytitle_cy[i] / H, xref="paper", yref="paper",
        text="(R<sub>G</sub>s)<sup>2</sup>*I(s)/I(0)", showarrow=False, textangle=-90,
        xanchor="center", yanchor="middle",
        font=dict(family=FONT, size=19, color="#222")))

fig.update_layout(
    width=W, height=H, margin=dict(l=0, r=0, t=0, b=0, autoexpand=False),
    paper_bgcolor="white", plot_bgcolor="white",
    annotations=annotations, shapes=shapes, **layout_axes)

fig.write_html("out.html", config={"displayModeBar": False})
